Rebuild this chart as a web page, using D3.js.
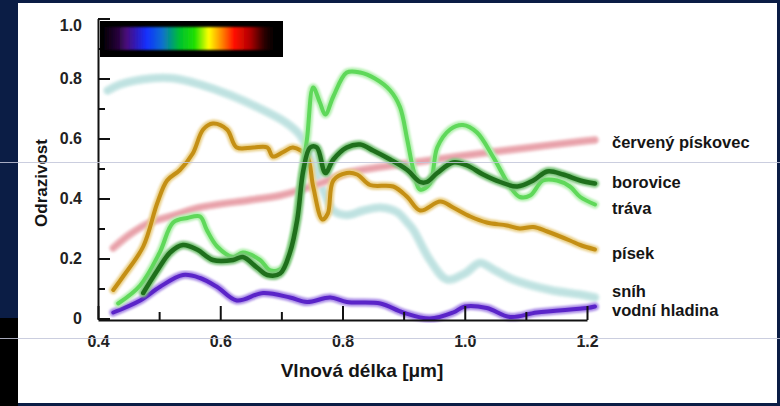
<!DOCTYPE html>
<html>
<head>
<meta charset="utf-8">
<script src="https://cdn.jsdelivr.net/npm/d3@7"></script>
<style>
body { margin: 0; background: #0b1d45; }
svg { display: block; }
</style>
</head>
<body>
<script>
// reflectance curves (wavelength in um, reflectance 0..1)
var snihW = [0.416, 0.436, 0.485, 0.526, 0.567, 0.616, 0.665, 0.706, 0.731, 0.755, 0.770, 0.785, 0.807, 0.834, 0.862, 0.889, 0.906, 0.916, 0.943, 0.971, 1.000, 1.025, 1.050, 1.079, 1.140, 1.189, 1.213];
var snihV = [0.76, 0.78, 0.80, 0.80, 0.78, 0.745, 0.70, 0.655, 0.61, 0.50, 0.42, 0.36, 0.345, 0.36, 0.37, 0.355, 0.32, 0.295, 0.195, 0.13, 0.15, 0.185, 0.16, 0.13, 0.095, 0.08, 0.07];

var piskovecW = [0.425, 0.452, 0.485, 0.526, 0.567, 0.649, 0.698, 0.763, 0.807, 0.862, 0.916, 0.970, 1.025, 1.107, 1.189, 1.213];
var piskovecV = [0.235, 0.28, 0.32, 0.345, 0.37, 0.395, 0.41, 0.45, 0.485, 0.505, 0.52, 0.535, 0.55, 0.57, 0.59, 0.595];

var vodaW = [0.425, 0.469, 0.501, 0.539, 0.567, 0.595, 0.627, 0.670, 0.714, 0.742, 0.780, 0.807, 0.862, 0.899, 0.943, 0.981, 1.000, 1.036, 1.074, 1.118, 1.200, 1.213];
var vodaV = [0.02, 0.06, 0.105, 0.145, 0.135, 0.105, 0.06, 0.085, 0.07, 0.055, 0.07, 0.055, 0.05, 0.02, 0.0, 0.02, 0.04, 0.035, 0.005, 0.02, 0.035, 0.04];

var pisekW = [0.425, 0.441, 0.474, 0.497, 0.513, 0.534, 0.555, 0.572, 0.588, 0.611, 0.627, 0.654, 0.677, 0.686, 0.703, 0.719, 0.742, 0.752, 0.767, 0.776, 0.785, 0.807, 0.824, 0.845, 0.883, 0.906, 0.927, 0.960, 0.981, 1.009, 1.036, 1.069, 1.090, 1.112, 1.135, 1.172, 1.189, 1.213];
var pisekV = [0.095, 0.14, 0.24, 0.385, 0.46, 0.495, 0.55, 0.63, 0.65, 0.63, 0.57, 0.57, 0.57, 0.54, 0.555, 0.57, 0.54, 0.44, 0.33, 0.35, 0.46, 0.485, 0.48, 0.445, 0.44, 0.405, 0.36, 0.39, 0.37, 0.34, 0.32, 0.31, 0.30, 0.305, 0.29, 0.26, 0.245, 0.23];

var travaW = [0.433, 0.469, 0.501, 0.523, 0.546, 0.567, 0.578, 0.595, 0.621, 0.637, 0.665, 0.682, 0.703, 0.719, 0.731, 0.742, 0.752, 0.763, 0.772, 0.785, 0.807, 0.829, 0.853, 0.878, 0.894, 0.906, 0.916, 0.927, 0.943, 0.955, 0.976, 0.997, 1.020, 1.046, 1.074, 1.090, 1.107, 1.128, 1.151, 1.172, 1.189, 1.213];
var travaV = [0.05, 0.11, 0.22, 0.32, 0.335, 0.34, 0.295, 0.24, 0.205, 0.22, 0.195, 0.16, 0.17, 0.27, 0.44, 0.60, 0.77, 0.72, 0.68, 0.74, 0.82, 0.82, 0.80, 0.76, 0.705, 0.595, 0.495, 0.43, 0.45, 0.57, 0.63, 0.645, 0.62, 0.54, 0.44, 0.405, 0.41, 0.46, 0.46, 0.44, 0.405, 0.38];

var boroviceW = [0.474, 0.497, 0.518, 0.539, 0.562, 0.588, 0.621, 0.637, 0.660, 0.677, 0.698, 0.714, 0.726, 0.736, 0.747, 0.758, 0.772, 0.785, 0.807, 0.829, 0.850, 0.878, 0.906, 0.927, 0.938, 0.955, 0.981, 1.004, 1.030, 1.058, 1.086, 1.112, 1.135, 1.161, 1.189, 1.213];
var boroviceV = [0.085, 0.16, 0.22, 0.245, 0.23, 0.195, 0.195, 0.205, 0.17, 0.145, 0.15, 0.22, 0.33, 0.495, 0.57, 0.57, 0.485, 0.53, 0.57, 0.58, 0.56, 0.53, 0.495, 0.455, 0.455, 0.485, 0.52, 0.51, 0.48, 0.455, 0.44, 0.46, 0.49, 0.48, 0.46, 0.45];

var seriesNames = ["sníh", "červený pískovec", "vodní hladina", "písek", "tráva", "borovice"];
var legendY = [291, 142, 310, 253, 208, 182];

var xMajor = [0.4, 0.6, 0.8, 1.0, 1.2];
var xMinor = [0.5, 0.7, 0.9, 1.1];
var yMajor = [0, 0.2, 0.4, 0.6, 0.8, 1.0];
var yMinor = [0.1, 0.3, 0.5, 0.7, 0.9];

var width = 780, height = 406;
var font = "'Liberation Sans', Arial, sans-serif";

var svg = d3.select("body").append("svg")
    .attr("width", width)
    .attr("height", height);

var defs = svg.append("defs");
defs.append("filter").attr("id", "soft")
    .append("feGaussianBlur").attr("stdDeviation", 1.3);
defs.append("filter").attr("id", "soft2")
    .append("feGaussianBlur").attr("stdDeviation", 0.8);

var grad = defs.append("linearGradient").attr("id", "spectrum");
var stops = [[0, "#000"], [0.1, "#2a0640"], [0.14, "#4a0a78"], [0.26, "#1430ff"], [0.35, "#0a6fd0"], [0.45, "#00c030"], [0.54, "#20e000"], [0.62, "#ffff00"], [0.69, "#ff9000"], [0.77, "#ff1000"], [0.86, "#b00000"], [0.94, "#300000"], [1, "#000"]];
stops.forEach(function(s) {
  grad.append("stop").attr("offset", s[0]).attr("stop-color", s[1]);
});

// slide background + white panel
svg.append("rect").attr("width", width).attr("height", height).attr("fill", "#0b1d45");
svg.append("rect").attr("x", 0).attr("y", 318).attr("width", 18).attr("height", 88).attr("fill", "#000");
svg.append("rect").attr("x", 18).attr("y", 3).attr("width", 759).attr("height", 400).attr("fill", "#fff");

var x = d3.scaleLinear().domain([0.4, 1.2]).range([98, 587]);
var y = d3.scaleLinear().domain([0, 1]).range([318.5, 18.5]);

var line = d3.line()
    .x(function(d) { return x(d[0]); })
    .y(function(d) { return y(d[1]); })
    .curve(d3.curveCatmullRom.alpha(0.5));

function pts(w, v) { return w.map(function(d, i) { return [d, v[i]]; }); }

var series = [
  {pts: pts(snihW, snihV), core: "#bfe2e1", halo: "#dff1f0", w: 6, blur: true},
  {pts: pts(piskovecW, piskovecV), core: "#e8a2aa", halo: "#f4d0d4", w: 5, blur: true},
  {pts: pts(vodaW, vodaV), core: "#5a24c8", halo: "#a88ae6", w: 4},
  {pts: pts(pisekW, pisekV), core: "#c48f14", halo: "#ead08a", w: 4},
  {pts: pts(travaW, travaV), core: "#5fd85a", halo: "#b4f0b0", w: 4},
  {pts: pts(boroviceW, boroviceV), core: "#1f6f1c", halo: "#7cc47a", w: 4.5}
];

var plot = svg.append("g");
series.forEach(function(s) {
  plot.append("path").datum(s.pts)
      .attr("d", line).attr("fill", "none")
      .attr("stroke", s.halo).attr("stroke-width", s.w + 4)
      .attr("stroke-linecap", "round").attr("stroke-linejoin", "round")
      .attr("filter", "url(#soft)");
  plot.append("path").datum(s.pts)
      .attr("d", line).attr("fill", "none")
      .attr("stroke", s.core).attr("stroke-width", s.w)
      .attr("stroke-linecap", "round").attr("stroke-linejoin", "round")
      .attr("filter", s.blur ? "url(#soft2)" : null);
});

// legend labels
svg.selectAll("text.leg")
  .data(seriesNames)
  .enter().append("text")
  .attr("class", "leg")
  .attr("x", 612)
  .attr("y", function(d, i) { return legendY[i]; })
  .attr("dy", "0.35em")
  .attr("font-family", font)
  .attr("font-weight", "bold")
  .attr("font-size", 16.5)
  .attr("fill", "#151515")
  .text(function(d) { return d; });

// axes
var xAxis = svg.append("g").attr("transform", "translate(0,320)")
    .call(d3.axisBottom(x).tickValues(xMajor).tickSize(-14).tickSizeOuter(0).tickPadding(16)
      .tickFormat(d3.format(".1f")));
svg.append("g").attr("transform", "translate(0,320)")
    .call(d3.axisBottom(x).tickValues(xMinor).tickSize(-8).tickFormat(""))
    .select(".domain").remove();

var yAxis = svg.append("g").attr("transform", "translate(98,0)")
    .call(d3.axisLeft(y).tickValues(yMajor).tickSize(-12).tickSizeOuter(0).tickPadding(16)
      .tickFormat(function(d) { return d === 0 ? "0" : d.toFixed(1); }));
svg.append("g").attr("transform", "translate(98,0)")
    .call(d3.axisLeft(y).tickValues(yMinor).tickSize(-7).tickFormat(""))
    .select(".domain").remove();
yAxis.selectAll(".tick text").filter(function(d) { return d === 1; }).attr("dy", "0.72em");

svg.selectAll(".domain, .tick line").attr("stroke", "#111").attr("stroke-width", 2);
svg.selectAll(".tick text")
    .attr("font-family", font).attr("font-weight", "bold")
    .attr("font-size", 16).attr("fill", "#222");

// spectrum box
svg.append("rect").attr("x", 100).attr("y", 21).attr("width", 183).attr("height", 36).attr("fill", "#000");
svg.append("rect").attr("x", 102).attr("y", 27).attr("width", 172).attr("height", 23)
    .attr("fill", "url(#spectrum)").attr("filter", "url(#soft2)");

// axis titles
svg.append("text")
    .attr("transform", "translate(47,183) rotate(-90)")
    .attr("text-anchor", "middle")
    .attr("font-family", font).attr("font-weight", "bold").attr("font-size", 17)
    .attr("fill", "#151515")
    .text("Odrazivost");
svg.append("text")
    .attr("x", 362).attr("y", 377)
    .attr("text-anchor", "middle")
    .attr("font-family", font).attr("font-weight", "bold").attr("font-size", 19)
    .attr("fill", "#151515")
    .text("Vlnová délka [μm]");

// thin slide guide lines
[162, 338].forEach(function(gy) {
  svg.append("line").attr("x1", 0).attr("x2", width).attr("y1", gy + 0.5).attr("y2", gy + 0.5)
      .attr("stroke", "#c3c6da").attr("stroke-width", 1).attr("opacity", 0.85);
});
</script>
</body>
</html>
